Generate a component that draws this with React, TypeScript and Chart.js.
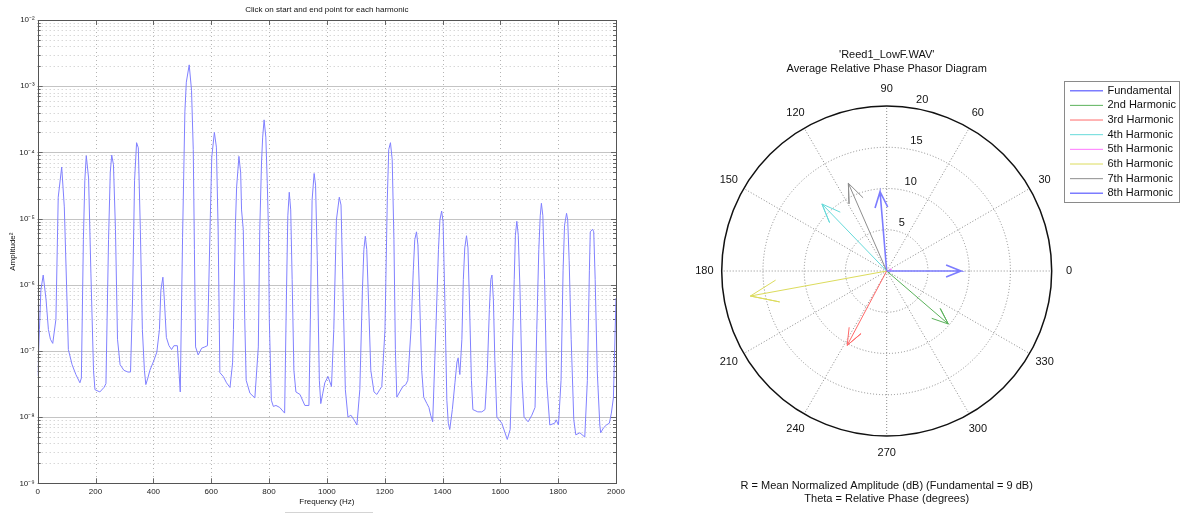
import React, { useEffect, useRef } from 'react';
import { Chart, registerables } from 'chart.js';

Chart.register(...registerables);

const FONT = '"Liberation Sans", Arial, Helvetica, sans-serif';

// ---------- Spectrum (left) ----------
const spectrumTitle = 'Click on start and end point for each harmonic';
const spectrumXTitle = 'Frequency (Hz)';
const spectrumYTitle = 'Amplitude²';
const xTickValues = [0, 200, 400, 600, 800, 1000, 1200, 1400, 1600, 1800, 2000];
const yDecadeExponents = [-9, -8, -7, -6, -5, -4, -3, -2];

const freqHz = [
  0, 6, 11, 19, 29, 37, 44, 52, 63, 71, 83, 92, 102, 106, 119, 132, 146, 151,
  158, 163, 168, 176, 184, 193, 198, 215, 229, 236,
  245, 251, 256, 262, 269, 276, 285, 298, 312, 321,
  328, 335, 342, 348, 355, 362, 369, 374, 381, 388, 402, 412,
  421, 426, 433, 438, 445, 454, 463, 471, 483, 493,
  501, 509, 514, 524, 532, 538, 542, 546, 555, 567, 578,
  587, 597, 602, 611, 618, 624, 630, 642, 653, 665, 674,
  677, 684, 688, 696, 702, 705, 711, 716, 721, 734, 751,
  763, 768, 774, 778, 783, 789, 794, 798, 801, 808, 815, 824, 837, 854,
  860, 865, 870, 875, 880, 886, 893, 907, 924, 938,
  943, 949, 956, 961, 967, 974, 979, 986, 993, 1004, 1016,
  1024, 1033, 1043, 1049, 1055, 1064, 1073, 1083, 1094, 1104,
  1114, 1123, 1128, 1133, 1138, 1144, 1152, 1163, 1173, 1183, 1190,
  1201, 1209, 1214, 1220, 1226, 1232, 1237, 1242, 1252, 1263, 1273, 1280,
  1291, 1299, 1304, 1310, 1315, 1321, 1328, 1335, 1346, 1353, 1359, 1366,
  1377, 1386, 1391, 1397, 1402, 1408, 1415, 1420, 1425, 1434, 1443, 1450, 1454, 1460,
  1467, 1472, 1477, 1483, 1488, 1493, 1500, 1505, 1522, 1536, 1547,
  1555, 1562, 1567, 1571, 1576, 1581, 1588, 1605, 1624, 1634,
  1641, 1648, 1652, 1657, 1662, 1668, 1675, 1682, 1696, 1709, 1720,
  1726, 1733, 1738, 1742, 1747, 1753, 1760, 1771, 1788, 1793, 1801,
  1810, 1817, 1822, 1829, 1833, 1838, 1845, 1854, 1861, 1875, 1892,
  1901, 1908, 1911, 1919, 1923, 1928, 1935, 1944, 1947, 1957, 1967, 1977, 1984, 1991, 2000,
];

const amplitude = [
  4.2e-8, 2.1e-7, 8.3e-7, 1.4e-6, 5.9e-7, 2.1e-7, 1.5e-7, 1.3e-7, 3.0e-7, 2.1e-5, 6.0e-5, 1.5e-5, 4.6e-7, 1.05e-7, 6.2e-8, 4.4e-8, 3.3e-8, 3.9e-8,
  4.8e-6, 3.8e-5, 8.9e-5, 4.1e-5, 1.5e-6, 5.1e-8, 2.6e-8, 2.4e-8, 2.8e-8, 3.2e-8,
  4.8e-6, 5.0e-5, 9.1e-5, 6.5e-5, 6.8e-6, 1.5e-7, 6.2e-8, 5.1e-8, 4.8e-8, 4.8e-8,
  5.9e-7, 3.8e-5, 1.4e-4, 1.17e-4, 6.8e-6, 2.1e-7, 5.1e-8, 3.1e-8, 3.9e-8, 5.1e-8, 7.2e-8, 9.6e-8,
  2.1e-7, 8.3e-7, 1.3e-6, 5.9e-7, 1.6e-7, 1.2e-7, 1.05e-7, 1.2e-7, 1.2e-7, 2.4e-8,
  5.2e-6, 4.1e-4, 1.15e-3, 2.1e-3, 8.7e-4, 1.1e-4, 3.4e-6, 1.15e-7, 8.7e-8, 1.1e-7, 1.15e-7,
  1.2e-7, 1.05e-5, 8.5e-5, 2.0e-4, 1.2e-4, 6.8e-6, 4.7e-8, 4.1e-8, 3.3e-8, 2.8e-8, 6.6e-8,
  2.1e-7, 8.5e-6, 3.0e-5, 8.7e-5, 4.9e-5, 1.35e-5, 6.8e-6, 3.0e-7, 3.6e-8, 2.3e-8, 1.95e-8,
  1.15e-7, 6.8e-6, 6.9e-5, 1.7e-4, 3.1e-4, 1.7e-4, 3.4e-5, 6.8e-6, 3.0e-7, 1.8e-8, 1.45e-8, 1.5e-8, 1.4e-8, 1.15e-8,
  5.9e-7, 1.1e-5, 2.5e-5, 1.35e-5, 1.2e-6, 5.1e-8, 2.4e-8, 2.2e-8, 1.5e-8, 1.5e-8,
  3.0e-7, 1.9e-5, 4.8e-5, 3.2e-5, 2.3e-6, 3.6e-8, 1.6e-8, 2.3e-8, 3.3e-8, 4.1e-8, 2.9e-8,
  2.1e-7, 9.5e-6, 2.1e-5, 1.6e-5, 1.2e-6, 2.6e-8, 1.0e-8, 1.07e-8, 9.1e-9, 7.6e-9,
  2.6e-8, 8.3e-7, 3.4e-6, 5.4e-6, 3.4e-6, 5.9e-7, 5.1e-8, 2.4e-8, 2.2e-8, 2.6e-8, 2.9e-8,
  2.1e-7, 1.9e-5, 1.1e-4, 1.4e-4, 7.8e-5, 4.8e-6, 1.05e-7, 2.0e-8, 2.4e-8, 2.9e-8, 3.1e-8, 3.6e-8,
  2.1e-7, 1.66e-6, 4.8e-6, 6.3e-6, 4.0e-6, 5.9e-7, 5.1e-8, 2.0e-8, 1.6e-8, 1.4e-8, 1.07e-8, 8.5e-9,
  2.1e-7, 3.4e-6, 9.5e-6, 1.3e-5, 8.9e-6, 5.9e-7, 1.8e-8, 8.1e-9, 6.5e-9, 1.3e-8, 3.3e-8, 6.8e-8, 7.8e-8, 4.4e-8,
  1.5e-7, 1.2e-6, 3.6e-6, 5.5e-6, 3.6e-6, 5.9e-7, 3.6e-8, 1.3e-8, 1.2e-8, 1.2e-8, 1.3e-8,
  5.1e-8, 4.2e-7, 1.2e-6, 1.4e-6, 5.9e-7, 7.2e-8, 1.0e-8, 8.1e-9, 4.6e-9, 6.5e-9,
  7.2e-8, 1.2e-6, 5.6e-6, 9.1e-6, 5.6e-6, 8.3e-7, 3.6e-8, 1.0e-8, 8.5e-9, 1.07e-8, 1.4e-8,
  2.1e-7, 3.4e-6, 1.1e-5, 1.7e-5, 1.1e-5, 1.2e-6, 3.6e-8, 7.6e-9, 8.1e-9, 9.1e-9, 7.6e-9,
  3.6e-8, 1.66e-6, 7.9e-6, 1.2e-5, 9.5e-6, 2.3e-6, 1.5e-7, 9.1e-9, 5.4e-9, 5.8e-9, 5.0e-9,
  3.6e-8, 1.66e-6, 6.3e-6, 6.9e-6, 6.3e-6, 1.2e-6, 5.1e-8, 7.6e-9, 5.8e-9, 6.9e-9, 7.6e-9, 8.1e-9, 1.15e-8, 1.95e-8, 6.3e-7,
];

// ---------- Phasor diagram (right) ----------
const phasorTitle = ["'Reed1_LowF.WAV'", 'Average Relative Phase Phasor Diagram'];
const phasorXLabel = ['R = Mean Normalized Amplitude (dB) (Fundamental = 9 dB)', 'Theta = Relative Phase (degrees)'];
const harmonicNames = ['Fundamental', '2nd Harmonic', '3rd Harmonic', '4th Harmonic', '5th Harmonic', '6th Harmonic', '7th Harmonic', '8th Harmonic'];
const harmonicColors = ['#7c7cff', '#5bb25b', '#ff6a6a', '#66dada', '#ff77ff', '#dcdc5c', '#8e8e8e', '#7c7cff'];
const harmonicWidths = [1.6, 1, 1, 1, 1, 1, 1, 1.6];
const harmonicAmpDb = [9.0, 9.85, 10.2, 11.3, 0.6, 16.8, 11.6, 9.65];
const harmonicPhaseDeg = [0, 319.3, 242, 134, 20, 190.4, 113.6, 94.8];
const ringValues = [5, 10, 15, 20];
const angleLabels = [0, 30, 60, 90, 120, 150, 180, 210, 240, 270, 300, 330];

const SUP: Record<string, string> = { '-': '⁻', '0': '⁰', '1': '¹', '2': '²', '3': '³', '4': '⁴', '5': '⁵', '6': '⁶', '7': '⁷', '8': '⁸', '9': '⁹' };
const sup = (n: number) => String(n).split('').map((c) => SUP[c] || c).join('');

const spectrumGridPlugin = {
  id: 'spectrumGrid',
  beforeDatasetsDraw(chart: any) {
    const { ctx, chartArea, scales } = chart;
    const { left, right, top, bottom } = chartArea;
    const x = scales.x;
    const y = scales.y;
    ctx.save();
    ctx.lineWidth = 1;
    // minor horizontal dotted lines
    ctx.strokeStyle = '#c6c6c6';
    ctx.setLineDash([1, 3]);
    for (let i = 0; i < yDecadeExponents.length - 1; i++) {
      const base = Math.pow(10, yDecadeExponents[i]);
      for (let k = 2; k <= 9; k++) {
        const py = Math.round(y.getPixelForValue(k * base)) + 0.5;
        ctx.beginPath();
        ctx.moveTo(left, py);
        ctx.lineTo(right, py);
        ctx.stroke();
      }
    }
    // vertical dotted
    ctx.strokeStyle = '#b4b4b4';
    xTickValues.slice(1, -1).forEach((v) => {
      const px = Math.round(x.getPixelForValue(v)) + 0.5;
      ctx.beginPath();
      ctx.moveTo(px, top);
      ctx.lineTo(px, bottom);
      ctx.stroke();
    });
    // decade solid lines
    ctx.setLineDash([]);
    ctx.strokeStyle = '#c4c4c4';
    yDecadeExponents.slice(1, -1).forEach((e) => {
      const py = Math.round(y.getPixelForValue(Math.pow(10, e))) + 0.5;
      ctx.beginPath();
      ctx.moveTo(left, py);
      ctx.lineTo(right, py);
      ctx.stroke();
    });
    // tick marks inside
    ctx.strokeStyle = '#666';
    for (let i = 0; i < yDecadeExponents.length; i++) {
      const base = Math.pow(10, yDecadeExponents[i]);
      const maxK = i === yDecadeExponents.length - 1 ? 1 : 9;
      for (let k = 1; k <= maxK; k++) {
        const py = Math.round(y.getPixelForValue(k * base)) + 0.5;
        const len = k === 1 ? 5 : 3;
        ctx.beginPath();
        ctx.moveTo(left, py);
        ctx.lineTo(left + len, py);
        ctx.moveTo(right, py);
        ctx.lineTo(right - len, py);
        ctx.stroke();
      }
    }
    xTickValues.forEach((v) => {
      const px = Math.round(x.getPixelForValue(v)) + 0.5;
      ctx.beginPath();
      ctx.moveTo(px, bottom);
      ctx.lineTo(px, bottom - 5);
      ctx.moveTo(px, top);
      ctx.lineTo(px, top + 5);
      ctx.stroke();
    });
    ctx.restore();
  },
  afterDatasetsDraw(chart: any) {
    const { ctx, chartArea } = chart;
    const { left, right, top, bottom } = chartArea;
    ctx.save();
    ctx.strokeStyle = '#555';
    ctx.lineWidth = 1;
    ctx.strokeRect(Math.round(left) + 0.5, Math.round(top) + 0.5, Math.round(right - left), Math.round(bottom - top));
    ctx.fillStyle = '#111';
    ctx.font = `8px ${FONT}`;
    ctx.textAlign = 'center';
    ctx.textBaseline = 'middle';
    ctx.fillText(spectrumTitle, (left + right) / 2, 10);
    ctx.restore();
  },
};

const phasorPlugin = {
  id: 'phasorGrid',
  beforeDatasetsDraw(chart: any) {
    const { ctx, scales } = chart;
    const cx = scales.x.getPixelForValue(0);
    const cy = scales.y.getPixelForValue(0);
    const unit = scales.x.getPixelForValue(1) - cx;
    const rMax = ringValues[ringValues.length - 1];
    ctx.save();
    ctx.fillStyle = '#fff';
    ctx.beginPath();
    ctx.arc(cx, cy, rMax * unit, 0, Math.PI * 2);
    ctx.fill();
    ctx.lineWidth = 1;
    ctx.strokeStyle = '#8c8c8c';
    ctx.setLineDash([1, 2]);
    ringValues.slice(0, -1).forEach((r) => {
      ctx.beginPath();
      ctx.arc(cx, cy, r * unit, 0, Math.PI * 2);
      ctx.stroke();
    });
    angleLabels.forEach((a) => {
      const t = (a * Math.PI) / 180;
      ctx.beginPath();
      ctx.moveTo(cx, cy);
      ctx.lineTo(cx + rMax * unit * Math.cos(t), cy - rMax * unit * Math.sin(t));
      ctx.stroke();
    });
    ctx.setLineDash([]);
    ctx.strokeStyle = '#111';
    ctx.lineWidth = 1.5;
    ctx.beginPath();
    ctx.arc(cx, cy, rMax * unit, 0, Math.PI * 2);
    ctx.stroke();
    // labels
    ctx.fillStyle = '#111';
    ctx.font = `11px ${FONT}`;
    ctx.textAlign = 'center';
    ctx.textBaseline = 'middle';
    angleLabels.forEach((a) => {
      const t = (a * Math.PI) / 180;
      const rl = rMax * 1.105 * unit;
      ctx.fillText(String(a), cx + rl * Math.cos(t), cy - rl * Math.sin(t));
    });
    ctx.textAlign = 'left';
    ctx.textBaseline = 'bottom';
    const t82 = (82 * Math.PI) / 180;
    ringValues.forEach((r) => {
      const rr = (r + 0.25) * unit;
      ctx.fillText('  ' + r, cx + rr * Math.cos(t82), cy - rr * Math.sin(t82));
    });
    ctx.restore();
  },
  afterDraw(chart: any) {
    const { ctx, scales } = chart;
    const cx = scales.x.getPixelForValue(0);
    ctx.save();
    ctx.fillStyle = '#111';
    ctx.font = `11px ${FONT}`;
    ctx.textAlign = 'center';
    ctx.textBaseline = 'middle';
    ctx.fillText(phasorTitle[0], cx, 55);
    ctx.fillText(phasorTitle[1], cx, 68.5);
    ctx.fillText(phasorXLabel[0], cx, 486);
    ctx.fillText(phasorXLabel[1], cx, 499);
    // legend
    const bx = 424, by = 81, bw = 115, bh = 121;
    ctx.fillStyle = '#fff';
    ctx.fillRect(bx, by, bw, bh);
    ctx.strokeStyle = '#8a8a8a';
    ctx.lineWidth = 1;
    ctx.strokeRect(bx + 0.5, by + 0.5, bw, bh);
    ctx.textAlign = 'left';
    chart.data.datasets.forEach((ds: any, i: number) => {
      const ry = 90.7 + 14.66 * i;
      ctx.strokeStyle = ds.borderColor;
      ctx.lineWidth = ds.borderWidth;
      ctx.beginPath();
      ctx.moveTo(430, ry);
      ctx.lineTo(463, ry);
      ctx.stroke();
      ctx.fillStyle = '#111';
      ctx.fillText(ds.label, 467.5, ry);
    });
    ctx.restore();
  },
};

export default function App() {
  const leftRef = useRef<HTMLCanvasElement>(null);
  const rightRef = useRef<HTMLCanvasElement>(null);

  useEffect(() => {
    const spectrumData = freqHz.map((f, i) => ({ x: f, y: amplitude[i] }));
    const left = new Chart(leftRef.current as HTMLCanvasElement, {
      type: 'scatter',
      data: {
        datasets: [
          {
            label: 'spectrum',
            data: spectrumData,
            showLine: true,
            borderColor: '#8080ff',
            borderWidth: 1,
            pointRadius: 0,
            tension: 0,
          },
        ],
      },
      options: {
        responsive: false,
        animation: false,
        layout: { padding: { left: 0, right: 24, top: 20, bottom: 0 } },
        plugins: {
          legend: { display: false },
          tooltip: { enabled: false },
          title: { display: false },
        },
        scales: {
          x: {
            type: 'linear',
            min: 0,
            max: 2000,
            afterBuildTicks: (s: any) => {
              s.ticks = xTickValues.map((v) => ({ value: v }));
            },
            afterFit: (s: any) => {
              s.height = 30.7;
            },
            ticks: {
              color: '#222',
              font: { family: FONT, size: 8 },
              padding: 4,
              maxRotation: 0,
              autoSkip: false,
              callback: (v: any) => String(v),
            },
            grid: { display: false, drawTicks: false },
            border: { display: false },
            title: { display: true, text: spectrumXTitle, color: '#111', font: { family: FONT, size: 8 }, padding: { top: 0, bottom: 7 } },
          },
          y: {
            type: 'logarithmic',
            min: 1e-9,
            max: 1e-2,
            afterBuildTicks: (s: any) => {
              s.ticks = yDecadeExponents.map((e) => ({ value: Math.pow(10, e) }));
            },
            afterFit: (s: any) => {
              s.width = 37.7;
            },
            ticks: {
              color: '#222',
              font: { family: FONT, size: 8 },
              padding: 3,
              autoSkip: false,
              callback: (v: any) => '10' + sup(Math.round(Math.log10(Number(v)))),
            },
            grid: { display: false, drawTicks: false },
            border: { display: false },
            title: { display: true, text: spectrumYTitle, color: '#111', font: { family: FONT, size: 8 }, padding: { top: 8, bottom: 0 } },
          },
        },
      } as any,
      plugins: [spectrumGridPlugin],
    });

    const arrowDatasets = harmonicNames.map((name, i) => {
      const r = harmonicAmpDb[i];
      const t = (harmonicPhaseDeg[i] * Math.PI) / 180;
      const c = Math.cos(t);
      const s = Math.sin(t);
      const tip = { x: r * c, y: r * s };
      const h1 = { x: r * (0.8 * c - 0.08 * s), y: r * (0.8 * s + 0.08 * c) };
      const h2 = { x: r * (0.8 * c + 0.08 * s), y: r * (0.8 * s - 0.08 * c) };
      return {
        label: name,
        data: [{ x: 0, y: 0 }, tip, h1, tip, h2],
        showLine: true,
        borderColor: harmonicColors[i],
        borderWidth: harmonicWidths[i],
        pointRadius: 0,
        tension: 0,
        clip: false,
      };
    });

    const right = new Chart(rightRef.current as HTMLCanvasElement, {
      type: 'scatter',
      data: { datasets: arrowDatasets },
      options: {
        responsive: false,
        animation: false,
        layout: { padding: { left: 48.7, right: 96.3, top: 73, bottom: 45 } },
        plugins: { legend: { display: false }, tooltip: { enabled: false }, title: { display: false } },
        scales: {
          x: { type: 'linear', min: -24, max: 24, display: false },
          y: { type: 'linear', min: -24, max: 24, display: false },
        },
      } as any,
      plugins: [phasorPlugin],
    });

    return () => {
      left.destroy();
      right.destroy();
    };
  }, []);

  return (
    <div style={{ position: 'absolute', left: 0, top: 0, width: 1181, height: 514, background: '#fff', overflow: 'hidden' }}>
      <canvas ref={leftRef} width={640} height={514} style={{ position: 'absolute', left: 0, top: 0 }} />
      <canvas ref={rightRef} width={541} height={514} style={{ position: 'absolute', left: 640, top: 0 }} />
      <div style={{ position: 'absolute', left: 285, top: 512, width: 88, height: 1, background: '#d4d4d4' }} />
    </div>
  );
}
